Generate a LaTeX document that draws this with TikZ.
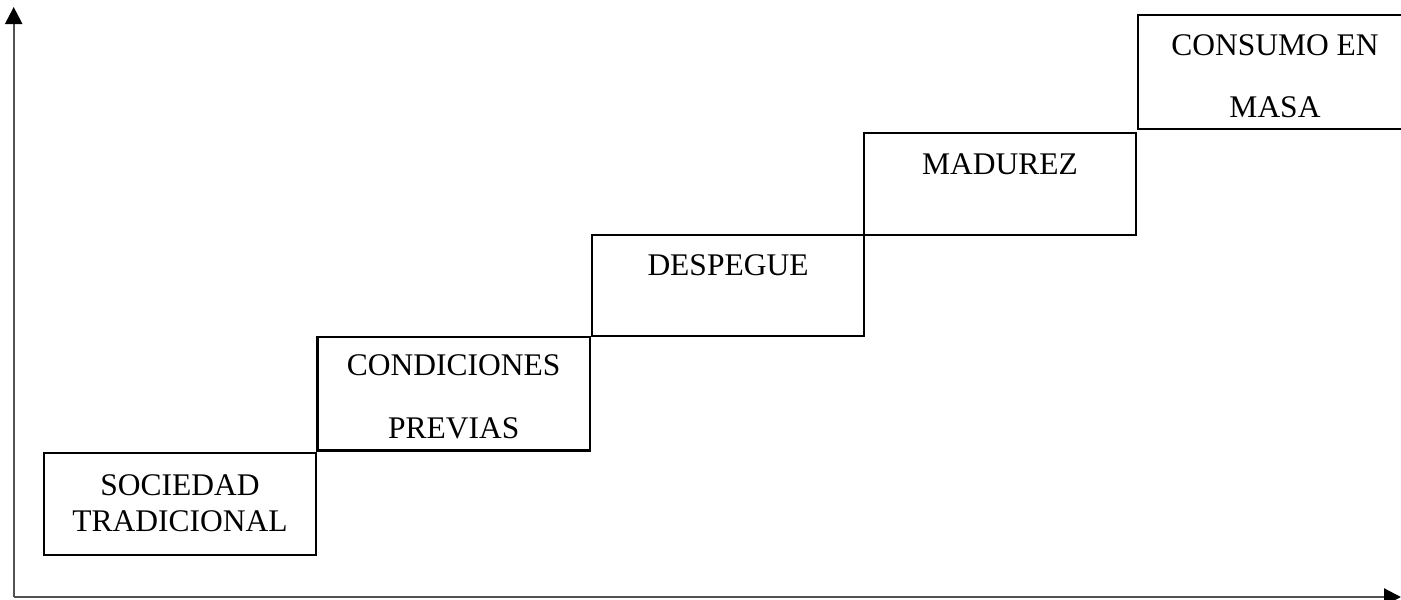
\documentclass[tikz,border=0pt]{standalone}
\usepackage{fontspec}
\setmainfont{Liberation Serif}
\usetikzlibrary{arrows.meta}
\begin{document}
\begin{tikzpicture}[x=1pt,y=-1pt,
  stagebox/.style={draw=black,line width=2.5pt,rectangle,inner sep=0pt,outer sep=0pt},
  stagetext/.style={anchor=base,inner sep=0pt,font=\fontsize{31.5}{37}\selectfont},
  axisline/.style={draw=black!68,line width=2.2pt,-{Triangle[length=17pt,width=17pt,color=black]}}]
\useasboundingbox (0,0) rectangle (1401,600);
\clip (0,0) rectangle (1401,600);
% axes
\coordinate (origin) at (13.7,597);
\coordinate (ytop) at (13.7,7);
\coordinate (xend) at (1401,597);
\draw[axisline] (origin) -- (ytop);
\draw[axisline] (origin) -- (xend);
% boxes
\node[stagebox,minimum width=272pt,minimum height=102pt] (b1) at (180,504) {};
\node[stagebox,minimum width=272.5pt,minimum height=113.5pt] (b2) at (453.7,393.7) {};
\node[stagebox,minimum width=272pt,minimum height=101pt] (b3) at (728,285.5) {};
\node[stagebox,minimum width=272pt,minimum height=102pt] (b4) at (1000,184) {};
\node[stagebox,minimum width=274pt,minimum height=114pt] (b5) at (1275,72) {};
% labels
\node[stagetext] (t1a) at (180,495) {SOCIEDAD};
\node[stagetext] (t1b) at (180,531.7) {TRADICIONAL};
\node[stagetext] (t2a) at (453.7,375) {CONDICIONES};
\node[stagetext] (t2b) at (453.7,438) {PREVIAS};
\node[stagetext] (t3) at (728,275) {DESPEGUE};
\node[stagetext] (t4) at (1000,174) {MADUREZ};
\node[stagetext] (t5a) at (1275,55) {CONSUMO EN};
\node[stagetext] (t5b) at (1275,117) {MASA};
\end{tikzpicture}
\end{document}
